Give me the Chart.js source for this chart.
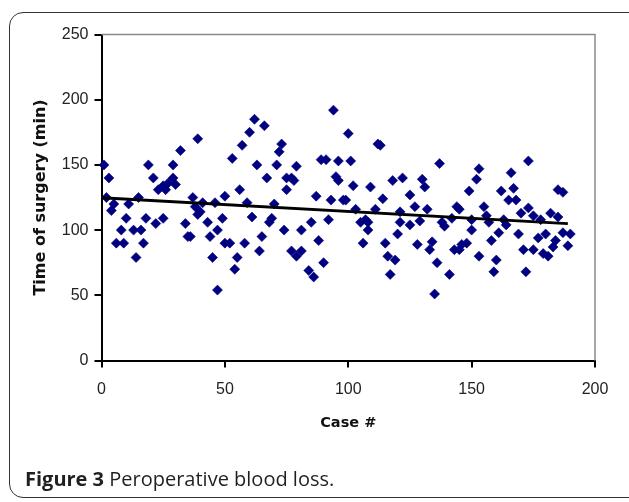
<!DOCTYPE html>
<html><head><meta charset="utf-8">
<script src="https://cdn.jsdelivr.net/npm/chart.js@4.4.0/dist/chart.umd.min.js"></script>
<style>
html,body{margin:0;padding:0;background:#fff;width:629px;height:502px;overflow:hidden;}
#frame{position:absolute;left:9px;top:12px;width:640px;height:486px;border:1.5px solid #333;border-radius:14px;box-sizing:border-box;}
#wrap{position:absolute;left:0;top:0;width:629px;height:502px;}
#cap{position:absolute;left:25px;top:465px;font-family:"Open Sans";font-size:20px;line-height:27px;color:#231f20;white-space:nowrap;}
#cap b{font-weight:700;}
</style></head><body>
<div id="frame"></div>
<div id="wrap"><canvas id="c"></canvas></div>
<div id="cap"><b>Figure 3</b> Peroperative blood loss.</div>
<script>
const caseNo = [1,2,3,4,5,6,8,9,10,11,13,14,15,16,17,18,19,21,22,23,25,25,26,27,29,29,30,32,34,35,36,37,38,39,39,
40,41,43,44,45,46,47,47,49,50,50,52,53,54,55,56,57,58,59,60,61,62,63,64,65,66,67,68,69,70,71,72,73,74,75,75,77,77,78,79,79,81,81,
84,85,86,87,88,89,90,91,92,93,94,95,96,96,98,99,100,101,102,103,105,106,107,108,108,109,111,112,113,114,115,116,117,118,119,120,121,121,122,
125,125,127,128,129,130,131,132,133,134,135,136,137,138,139,141,142,143,144,145,145,146,148,149,150,150,152,153,153,155,156,157,158,159,160,161,162,163,
164,165,166,167,168,169,170,171,172,173,173,175,175,177,178,179,180,181,182,183,184,185,185,187,187,189,190];
const minutes = [150,125,140,115,120,90,100,90,109,120,100,79,125,100,90,109,150,140,105,131,109,134,131,136,140,150,135,161,105,95,95,125,118,112,170,
114,121,106,95,79,121,100,54,109,126,90,90,155,70,79,131,165,90,121,175,110,185,150,84,95,180,140,106,109,120,150,160,166,100,140,131,140,84,138,149,80,100,84,
69,106,64,126,92,154,75,154,108,123,192,141,138,153,123,123,174,153,134,116,106,90,108,106,100,133,116,166,165,124,90,80,66,138,77,97,106,114,140,
127,104,118,89,107,139,133,116,85,91,51,75,151,106,103,66,109,85,118,116,85,89,90,130,108,100,139,80,147,118,111,106,92,68,77,98,130,108,
104,123,144,132,123,97,113,85,68,153,117,111,85,94,108,82,97,80,113,87,92,131,110,129,98,88,97];
const trendCase = [0, 189];
const trendMin = [124.8, 105];
const xTicks = [0, 50, 100, 150, 200];
const yTicks = [0, 50, 100, 150, 200, 250];

const plotFrame = {
  id: 'plotFrame',
  beforeDatasetsDraw(chart) {
    const a = chart.chartArea, ctx = chart.ctx;
    ctx.save();
    ctx.strokeStyle = '#8a8a8a';
    ctx.lineWidth = 1.5;
    ctx.beginPath();
    ctx.moveTo(a.left, a.top);
    ctx.lineTo(a.right, a.top);
    ctx.lineTo(a.right, a.bottom);
    ctx.stroke();
    ctx.restore();
  }
};

new Chart(document.getElementById('c'), {
  type: 'scatter',
  data: {
    datasets: [
      {
        type: 'line',
        data: trendCase.map((c, i) => ({x: c, y: trendMin[i]})),
        borderColor: '#000',
        borderWidth: 2.8,
        pointRadius: 0,
        fill: false,
        order: 0
      },
      {
        data: caseNo.map((c, i) => ({x: c, y: minutes[i]})),
        pointStyle: 'rectRot',
        pointRadius: 5,
        backgroundColor: '#000080',
        borderColor: '#000080',
        borderWidth: 0.6,
        clip: false,
        order: 1
      }
    ]
  },
  options: {
    responsive: true,
    maintainAspectRatio: false,
    animation: false,
    events: [],
    layout: {padding: {left: 31.5, top: 34.5, right: 34, bottom: 70}},
    plugins: {legend: {display: false}, tooltip: {enabled: false}},
    scales: {
      x: {
        type: 'linear', min: 0, max: 200, position: 'bottom',
        afterBuildTicks: s => { s.ticks = xTicks.map(v => ({value: v})); },
        afterFit: s => { s.height = 71.5; },
        grid: {drawOnChartArea: false, drawTicks: true, tickLength: 7, color: '#000', lineWidth: 2},
        border: {display: true, color: '#000', width: 2},
        ticks: {font: {family: 'Liberation Sans', size: 16}, color: '#222', padding: 12, maxRotation: 0},
        title: {display: true, text: 'Case #', font: {family: 'DejaVu Sans', weight: 'bold', size: 14.5}, color: '#111', padding: 0}
      },
      y: {
        type: 'linear', min: 0, max: 250,
        afterBuildTicks: s => { s.ticks = yTicks.map(v => ({value: v})); },
        afterFit: s => { s.width = 70; },
        grid: {drawOnChartArea: false, drawTicks: true, tickLength: 7, color: '#000', lineWidth: 2},
        border: {display: true, color: '#000', width: 2},
        ticks: {font: {family: 'Liberation Sans', size: 16}, color: '#222', padding: 6},
        title: {display: true, text: 'Time of surgery (min)', font: {family: 'DejaVu Sans', weight: 'bold', size: 16}, color: '#111', padding: 0}
      }
    }
  },
  plugins: [plotFrame]
});
</script>
</body></html>
